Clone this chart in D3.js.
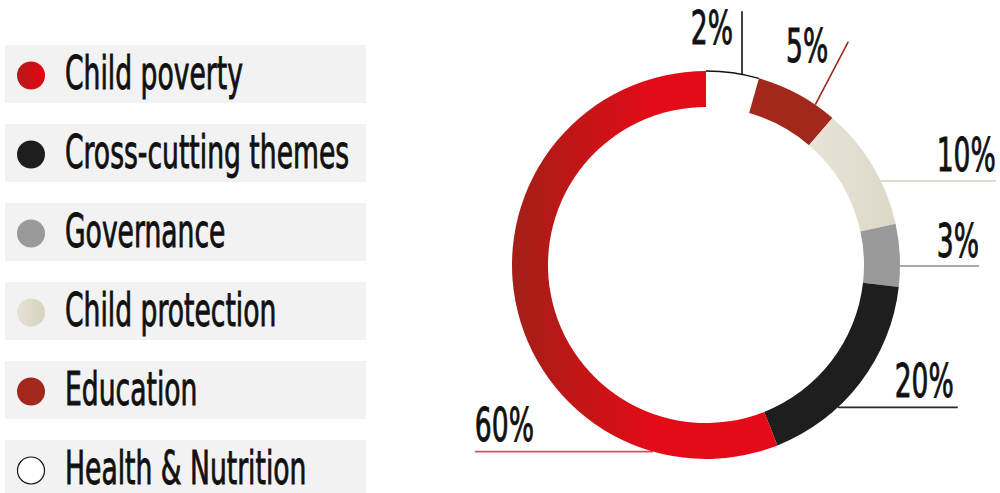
<!DOCTYPE html>
<html>
<head>
<meta charset="utf-8">
<script src="https://cdn.jsdelivr.net/npm/d3@7"></script>
<style>
  html, body { margin: 0; padding: 0; background: #fff; }
  svg { display: block; }
  text { font-family: "Liberation Sans Narrow", "DejaVu Sans Condensed", "Roboto", sans-serif; fill: #111; stroke: #111; stroke-width: 0.9px; }
</style>
</head>
<body>
<div id="chart"></div>
<script>
// Data, legend order (top to bottom)
const categories = ["Child poverty", "Cross-cutting themes", "Governance", "Child protection", "Education", "Health & Nutrition"];
const labelValues = [60, 20, 3, 10, 5, 2];          // printed percentages
const arcShares = [56.0, 17.2, 5.2, 10.3, 6.9, 4.4]; // arc sizes as drawn in the picture

const width = 1000, height = 493;
const cx = 706, cy = 265, outerR = 194, innerR = 158;
const fontSize = 47;

const svg = d3.select("#chart").append("svg")
    .attr("width", width)
    .attr("height", height);

const defs = svg.append("defs");

// gradient for the child poverty ring segment (ring group space, centre at 0,0)
const gPov = defs.append("linearGradient")
    .attr("id", "gradPoverty")
    .attr("gradientUnits", "userSpaceOnUse")
    .attr("x1", -outerR).attr("x2", -outerR + 140)
    .attr("y1", 0).attr("y2", 0);
gPov.append("stop").attr("offset", 0).attr("stop-color", "#a31f17");
gPov.append("stop").attr("offset", 1).attr("stop-color", "#e30b17");

const gPovDot = defs.append("linearGradient").attr("id", "gradPovertyDot");
gPovDot.append("stop").attr("offset", 0).attr("stop-color", "#b41a17");
gPovDot.append("stop").attr("offset", 1).attr("stop-color", "#e30613");

const gProt = defs.append("linearGradient")
    .attr("id", "gradProtect")
    .attr("gradientUnits", "userSpaceOnUse")
    .attr("x1", 100).attr("x2", outerR)
    .attr("y1", 0).attr("y2", 0);
gProt.append("stop").attr("offset", 0).attr("stop-color", "#e8e4d9");
gProt.append("stop").attr("offset", 1).attr("stop-color", "#dcd6c5");

const gProtDot = defs.append("linearGradient").attr("id", "gradProtectDot");
gProtDot.append("stop").attr("offset", 0).attr("stop-color", "#e6e1d6");
gProtDot.append("stop").attr("offset", 1).attr("stop-color", "#d8d1bd");

const color = d3.scaleOrdinal()
    .domain(categories)
    .range(["url(#gradPoverty)", "#1e1e1e", "#9a9a9a", "url(#gradProtect)", "#a1281a", "#ffffff"]);
const dotColor = d3.scaleOrdinal()
    .domain(categories)
    .range(["url(#gradPovertyDot)", "#1e1e1e", "#9a9a9a", "url(#gradProtectDot)", "#a1281a", "#ffffff"]);
const lineColor = d3.scaleOrdinal()
    .domain(categories)
    .range(["#d4505a", "#2a2a2a", "#8c8c8c", "#d9d4c4", "#a1281a", "#111111"]);

// ---------- legend ----------
const legend = svg.append("g").attr("class", "legend");
const rowY = d3.scalePoint().domain(categories).range([45, 440]);

const rows = legend.selectAll("g.row")
    .data(categories)
    .enter().append("g")
    .attr("class", "row")
    .attr("transform", d => `translate(5,${rowY(d)})`);

rows.append("rect")
    .attr("width", 361)
    .attr("height", 58)
    .attr("fill", "#f2f2f2");

rows.append("circle")
    .attr("cx", 26)
    .attr("cy", 30.5)
    .attr("r", d => d === "Health & Nutrition" ? 13.5 : 14)
    .attr("fill", d => dotColor(d))
    .attr("stroke", d => d === "Health & Nutrition" ? "#111" : "none")
    .attr("stroke-width", 1.2);

const legendText = rows.append("text")
    .attr("data-x", 60)
    .attr("data-y", 44)
    .style("font-size", fontSize + "px")
    .text(d => d);

// ---------- donut ----------
const pieOrder = categories.slice().reverse(); // clockwise from 12 o'clock
const pieData = pieOrder.map(c => ({
    name: c,
    share: arcShares[categories.indexOf(c)],
    label: labelValues[categories.indexOf(c)]
}));

const pie = d3.pie().sort(null).value(d => d.share);
const arcs = pie(pieData);
const arc = d3.arc().innerRadius(innerR).outerRadius(outerR);

const ring = svg.append("g").attr("transform", `translate(${cx},${cy})`);

// leader line layout: touch angle (deg) on outer edge, then offset to the free end
const leaders = {
    "Health & Nutrition": { angle: 10.7, dx: 0, dy: -63, tx: -9, ty: 33, anchor: "end" },
    "Education": { angle: 34.3, dx: 33, dy: -63, tx: -20, ty: 20, anchor: "end" },
    "Child protection": { angle: 64.3, dx: 115, dy: 0, tx: 0, ty: -10, anchor: "end" },
    "Governance": { angle: 90.3, dx: 79, dy: 0, tx: 0, ty: -9, anchor: "end" },
    "Cross-cutting themes": { angle: 137.2, dx: 120, dy: 0, tx: -4, ty: -10, anchor: "end" },
    "Child poverty": { angle: 195.9, dx: -178, dy: 0, tx: 0, ty: -11, anchor: "start" }
};

const lines = ring.append("g").attr("class", "leaders");

ring.selectAll("path.seg")
    .data(arcs)
    .enter().append("path")
    .attr("class", "seg")
    .attr("d", arc)
    .attr("fill", d => color(d.data.name));

// thin outline on the outer edge of the white slice
const white = arcs.find(a => a.data.name === "Health & Nutrition");
ring.append("path")
    .attr("d", d3.arc().innerRadius(outerR).outerRadius(outerR)(white))
    .attr("fill", "none")
    .attr("stroke", "#111")
    .attr("stroke-width", 1.3);

arcs.forEach(a => {
    const L = leaders[a.data.name];
    const t = L.angle * Math.PI / 180;
    const x0 = outerR * Math.sin(t), y0 = -outerR * Math.cos(t);
    const x1 = x0 + L.dx, y1 = y0 + L.dy;
    lines.append("line")
        .attr("x1", x0).attr("y1", y0)
        .attr("x2", x1).attr("y2", y1)
        .attr("stroke", lineColor(a.data.name))
        .attr("stroke-width", 1.6);
    ring.append("text")
        .attr("data-x", x1 + L.tx)
        .attr("data-y", y1 + L.ty)
        .attr("text-anchor", L.anchor)
        .style("font-size", fontSize + "px")
        .text(a.data.label + "%");
});

// condense all text horizontally to match the narrow display face
const probe = legendText.filter(d => d === "Child poverty").node();
const sx = 178 / probe.getComputedTextLength();
svg.selectAll("text").each(function () {
    const el = d3.select(this);
    el.attr("transform", `translate(${el.attr("data-x")},${el.attr("data-y")}) scale(${sx},1)`);
});
</script>
</body>
</html>
